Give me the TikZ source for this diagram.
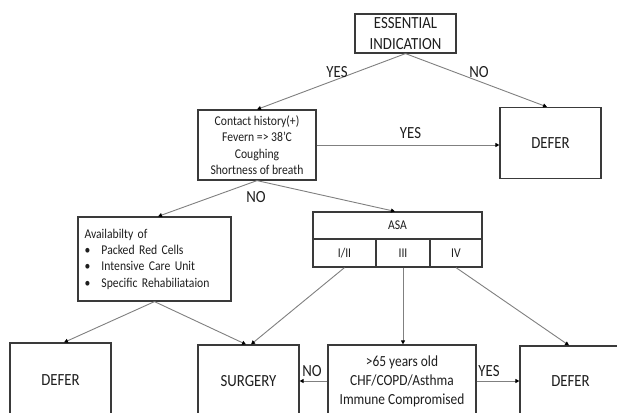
\documentclass[tikz,border=0pt]{standalone}
\usepackage{fontspec}
\setmainfont{Carlito}[FakeStretch=0.87]
\usetikzlibrary{arrows.meta}
\definecolor{boxc}{HTML}{3A3A3A}
\definecolor{linec}{HTML}{808080}
\definecolor{txtc}{HTML}{1E1E1E}
\newcommand{\bigf}{\fontsize{17}{21.5}\selectfont}
\newcommand{\smallf}{\fontsize{13.4}{16.3}\selectfont}
\newcommand{\midf}{\fontsize{15.4}{19}\selectfont}
\newcommand{\bul}{\makebox[17pt][l]{\textbullet}}
\begin{document}
\begin{tikzpicture}[x=1pt,y=-1pt,
  box/.style={draw=boxc, line width=1.2pt, inner sep=0pt, align=center, fill=white, text=txtc},
  bigbox/.style={box, font=\bigf},
  smallbox/.style={box, font=\smallf},
  conn/.style={draw=linec, line width=0.9pt, -{Triangle[length=4pt,width=4pt,color=black]}},
  lbl/.style={font=\bigf, text=txtc, inner sep=0pt}]
\clip (0,0) rectangle (617,412);
\fill[white] (0,0) rectangle (617,412);

\node[bigbox, minimum width=101pt, minimum height=39pt] (ess) at (405.5,33.5) {ESSENTIAL\\INDICATION};
\node[bigbox, minimum width=101pt, minimum height=71pt] (deferR) at (550.5,143) {DEFER};
\node[smallbox, minimum width=118pt, minimum height=70pt] (contact) at (257,145) {Contact history(+)\\Fevern => 38'C\\Coughing\\Shortness of breath};
\node[smallbox, minimum width=153pt, minimum height=84pt, text width=140pt, align=left] (avail) at (154.5,259) {Availabilty of\\\bul Packed Red Cells\\\bul Intensive Care Unit\\\bul Specific Rehabiliataion};
\node[smallbox, minimum width=169pt, minimum height=27pt] (asa) at (397.5,225.5) {ASA};
\node[smallbox, minimum width=63pt, minimum height=28pt] (c1) at (344.5,253) {I/II};
\node[smallbox, minimum width=54pt, minimum height=28pt] (c2) at (403,253) {III};
\node[smallbox, minimum width=52pt, minimum height=28pt] (c3) at (456,253) {IV};

\node[bigbox, minimum width=101pt, minimum height=74pt] (deferL) at (60.5,380) {DEFER};
\node[bigbox, minimum width=101pt, minimum height=72pt] (surg) at (248.5,381) {SURGERY};
\node[box, font=\midf, minimum width=148pt, minimum height=72pt] (mid) at (402,381) {>65 years old\\CHF/COPD/Asthma\\Immune Compromised};
\node[bigbox, minimum width=101pt, minimum height=70pt] (deferR2) at (570.5,381) {DEFER};

\draw[conn] (ess.south) -- (contact.north);
\draw[conn] (ess.south) -- ([xshift=-3.5pt]deferR.north);
\draw[conn] (contact.east) -- (contact.east -| deferR.west);
\draw[conn] (contact.south) -- ([xshift=3.5pt]avail.north);
\draw[conn] (contact.south) -- ([xshift=-2.5pt]asa.north);
\draw[conn] (avail.south) -- ([xshift=3.5pt]deferL.north);
\draw[conn] (avail.south) -- ([xshift=-2.5pt]surg.north);
\draw[conn] (c1.south) -- ([xshift=2.5pt]surg.north);
\draw[conn] (c2.south) -- (c2.south |- mid.north);
\draw[conn] (c3.south) -- ([xshift=-1.5pt]deferR2.north);
\draw[conn] (mid.west) -- (surg.east);
\draw[conn] (mid.east) -- (deferR2.west);

\node[lbl] (l1) at (337,72) {YES};
\node[lbl] (l2) at (479,72) {NO};
\node[lbl] (l3) at (410.5,133) {YES};
\node[lbl] (l4) at (256,197) {NO};
\node[lbl] (l5) at (312,371) {NO};
\node[lbl] (l6) at (489,371) {YES};
\end{tikzpicture}
\end{document}
